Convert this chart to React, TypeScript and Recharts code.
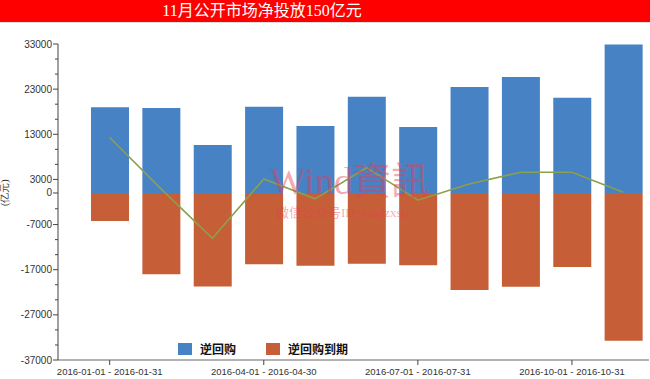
import { Bar, ComposedChart, Line, XAxis, YAxis, Legend } from "recharts";

const months = ["2016-01", "2016-02", "2016-03", "2016-04", "2016-05", "2016-06", "2016-07", "2016-08", "2016-09", "2016-10", "2016-11"];
const periodLabels = [
  "2016-01-01 - 2016-01-31",
  "2016-02-01 - 2016-02-29",
  "2016-03-01 - 2016-03-31",
  "2016-04-01 - 2016-04-30",
  "2016-05-01 - 2016-05-31",
  "2016-06-01 - 2016-06-30",
  "2016-07-01 - 2016-07-31",
  "2016-08-01 - 2016-08-31",
  "2016-09-01 - 2016-09-30",
  "2016-10-01 - 2016-10-31",
  "2016-11-01 - 2016-11-30",
];
const reverseRepo = [19000, 18850, 10650, 19100, 14850, 21300, 14600, 23500, 25700, 21100, 32900];
const repoMaturity = [-6200, -18000, -20700, -15800, -16100, -15700, -16000, -21500, -20800, -16400, -32750];
const netInjection = [12300, 900, -10050, 3100, -1300, 5600, -1600, 2000, 4600, 4600, 150];

const majorTicks = [33000, 23000, 13000, 3000, 0, -7000, -17000, -27000, -37000];
const minorTicks = [29667, 26333, 19667, 16333, 9667, 6333, -3500, -10333, -13667, -20333, -23667, -30333, -33667];

const BLUE = "#4682c4";
const ORANGE = "#c65e37";
const OLIVE = "#8c9f4c";

const data = months.map((m, i) => ({
  month: m,
  repo: reverseRepo[i],
  maturity: repoMaturity[i],
  net: netInjection[i],
}));

const YTick = (props: any) => {
  const { x, y, payload } = props;
  const major = majorTicks.includes(payload.value);
  return (
    <g>
      <line x1={x - (major ? 5 : 3)} x2={x} y1={y} y2={y} stroke="#444" />
      {major && (
        <text x={x - 6} y={y} dy={3.5} textAnchor="end" fontSize={10} fill="#333" fontFamily="Liberation Sans, Arial">
          {payload.value}
        </text>
      )}
    </g>
  );
};

const XTick = (props: any) => {
  const { x, y, payload } = props;
  const i = months.indexOf(payload.value);
  return (
    <text x={x} y={y} dy={8} textAnchor="middle" fontSize={9.5} fill="#333" fontFamily="Liberation Sans, Arial">
      {periodLabels[i]}
    </text>
  );
};

const legendItems = [
  { name: "逆回购", color: BLUE },
  { name: "逆回购到期", color: ORANGE },
];

const LegendBox = () => (
  <div style={{ display: "flex", alignItems: "center", fontFamily: "Noto Sans CJK SC", fontSize: 12, fontWeight: 700, color: "#111" }}>
    {legendItems.map((it) => (
      <div key={it.name} style={{ display: "flex", alignItems: "center", marginRight: 30 }}>
        <span style={{ width: 14, height: 12, background: it.color, display: "inline-block", marginRight: 8 }} />
        <span>{it.name}</span>
      </div>
    ))}
  </div>
);

export default function App() {
  return (
    <div style={{ position: "absolute", left: 0, top: 0, width: 650, height: 379, background: "#fff", overflow: "hidden" }}>
      <div
        style={{
          position: "absolute",
          left: 0,
          top: 0,
          width: 650,
          height: 22,
          background: "#ff0000",
          borderBottom: "1px solid #ddd",
        }}
      >
        <div
          style={{
            width: 524,
            color: "#fff",
            fontFamily: "Liberation Serif, Noto Sans CJK SC",
            fontSize: 16,
            lineHeight: "22px",
            textAlign: "center",
          }}
        >
          11月公开市场净投放150亿元
        </div>
      </div>
      <div style={{ position: "absolute", left: 0, top: 0 }}>
        <ComposedChart width={650} height={379} data={data} stackOffset="sign" margin={{ top: 44, right: 1, bottom: 0, left: 0 }}>
          <XAxis
            dataKey="month"
            height={19}
            interval={2}
            padding={{ left: 26, right: 0 }}
            axisLine={{ stroke: "#666" }}
            tickLine={{ stroke: "#444" }}
            tickSize={5}
            tickMargin={2}
            tick={<XTick />}
          />
          <YAxis
            width={58}
            domain={[-37000, 33000]}
            ticks={[...majorTicks, ...minorTicks]}
            interval={0}
            axisLine={{ stroke: "#444" }}
            tickLine={false}
            tickSize={0}
            tickMargin={0}
            tick={<YTick />}
            allowDataOverflow
            label={{ value: "(亿元)", angle: -90, position: "insideLeft", offset: 4, fontSize: 10, fill: "#333", dy: 4 }}
          />
          <Legend
            layout="horizontal"
            verticalAlign="middle"
            align="center"
            wrapperStyle={{ position: "absolute", left: 178, top: 340, width: 260 }}
            content={<LegendBox />}
          />
          <Bar dataKey="repo" name="逆回购" stackId="a" fill={BLUE} barSize={38} isAnimationActive={false} />
          <Bar dataKey="maturity" name="逆回购到期" stackId="a" fill={ORANGE} barSize={38} isAnimationActive={false} />
          <Line dataKey="net" type="linear" stroke={OLIVE} strokeWidth={1.6} dot={false} activeDot={false} legendType="none" isAnimationActive={false} />
        </ComposedChart>
      </div>
      <div
        style={{
          position: "absolute",
          left: 270,
          top: 150,
          fontFamily: "Liberation Serif, Noto Sans CJK TC",
          fontSize: 38,
          color: "rgba(235, 60, 80, 0.45)",
          pointerEvents: "none",
          whiteSpace: "nowrap",
        }}
      >
        Wind資訊
      </div>
      <div
        style={{
          position: "absolute",
          left: 276,
          top: 202,
          fontFamily: "Liberation Serif, Noto Sans CJK SC",
          fontSize: 13,
          color: "rgba(235, 60, 80, 0.45)",
          pointerEvents: "none",
          whiteSpace: "nowrap",
        }}
      >
        微信公众号ID:windzxsh
      </div>
    </div>
  );
}
